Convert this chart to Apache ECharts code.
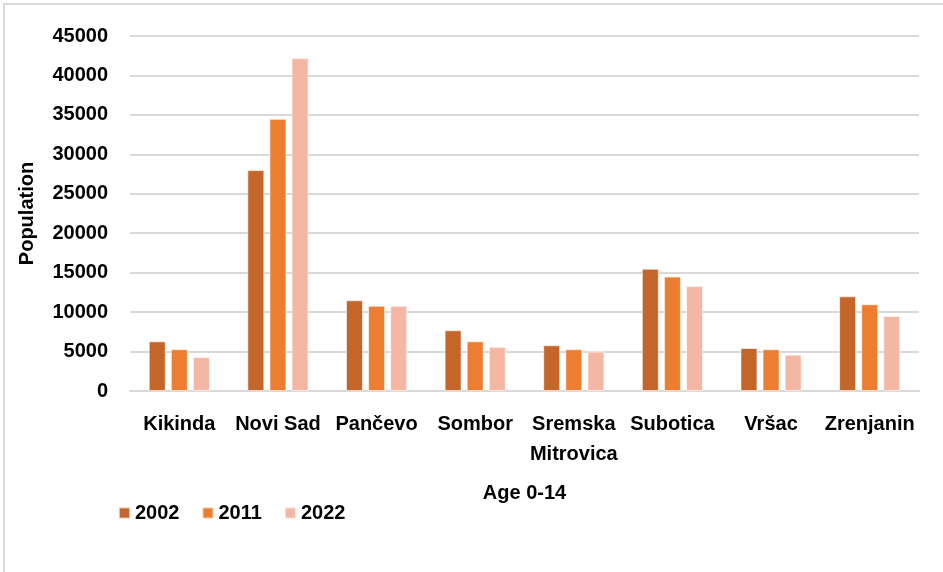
<!DOCTYPE html>
<html>
<head>
<meta charset="utf-8">
<script src="https://cdn.jsdelivr.net/npm/echarts@6/dist/echarts.min.js"></script>
<style>
    html, body { margin: 0; padding: 0; background: #fff; }
    #chart { width: 943px; height: 572px; }
</style>
</head>
<body>
<div id="chart"></div>
<script>
// 类别与数据
const cities = ['Kikinda', 'Novi Sad', 'Pančevo', 'Sombor', 'Sremska\nMitrovica', 'Subotica', 'Vršac', 'Zrenjanin'];
const years = ['2002', '2011', '2022'];
const pop2002 = [6300, 28000, 11500, 7700, 5800, 15500, 5450, 12000];
const pop2011 = [5300, 34500, 10800, 6300, 5300, 14500, 5300, 11000];
const pop2022 = [4300, 42200, 10800, 5600, 5000, 13300, 4600, 9500];
const yearColors = ['#C4652A', '#ED7D31', '#F4B7A3'];

const fontFam = '"Liberation Sans", Arial, sans-serif';
const chart = echarts.init(document.getElementById('chart'));

const seriesData = [pop2002, pop2011, pop2022];

chart.setOption({
    animation: false,
    textStyle: { fontFamily: fontFam },
    graphic: [{
        type: 'rect',
        shape: { x: 4, y: 4, width: 960, height: 620 },
        style: { fill: 'none', stroke: '#d9d9d9', lineWidth: 2 }
    }],
    legend: {
        data: years,
        left: 113,
        top: 498,
        itemWidth: 11,
        itemHeight: 11,
        itemGap: 22,
        icon: 'rect',
        textStyle: { fontSize: 20, fontWeight: 'bold', color: '#000', fontFamily: fontFam }
    },
    grid: { left: 130, right: 24, top: 36, bottom: 181 },
    xAxis: {
        type: 'category',
        data: cities,
        name: 'Age 0-14',
        nameLocation: 'middle',
        nameGap: 92,
        nameTextStyle: { fontSize: 20, fontWeight: 'bold', color: '#000' },
        axisTick: { show: false },
        axisLine: { lineStyle: { color: '#d9d9d9', width: 2 } },
        axisLabel: {
            interval: 0,
            fontSize: 20,
            fontWeight: 'bold',
            color: '#000',
            margin: 18,
            lineHeight: 30
        }
    },
    yAxis: {
        type: 'value',
        min: 0,
        max: 45000,
        interval: 5000,
        name: 'Population',
        nameLocation: 'middle',
        nameGap: 93,
        nameTextStyle: { fontSize: 20, fontWeight: 'bold', color: '#000' },
        axisLine: { show: false },
        axisTick: { show: false },
        axisLabel: {
            fontSize: 20,
            fontWeight: 'bold',
            color: '#000',
            margin: 22,
            formatter: v => String(v)
        },
        splitLine: { lineStyle: { color: '#d9d9d9', width: 2 } }
    },
    series: years.map((y, i) => ({
        name: y,
        type: 'bar',
        data: seriesData[i],
        barWidth: 17,
        barGap: '30%',
        itemStyle: {
            color: yearColors[i],
            borderColor: 'rgba(255,255,255,0.6)',
            borderWidth: 1
        }
    }))
});
</script>
</body>
</html>
